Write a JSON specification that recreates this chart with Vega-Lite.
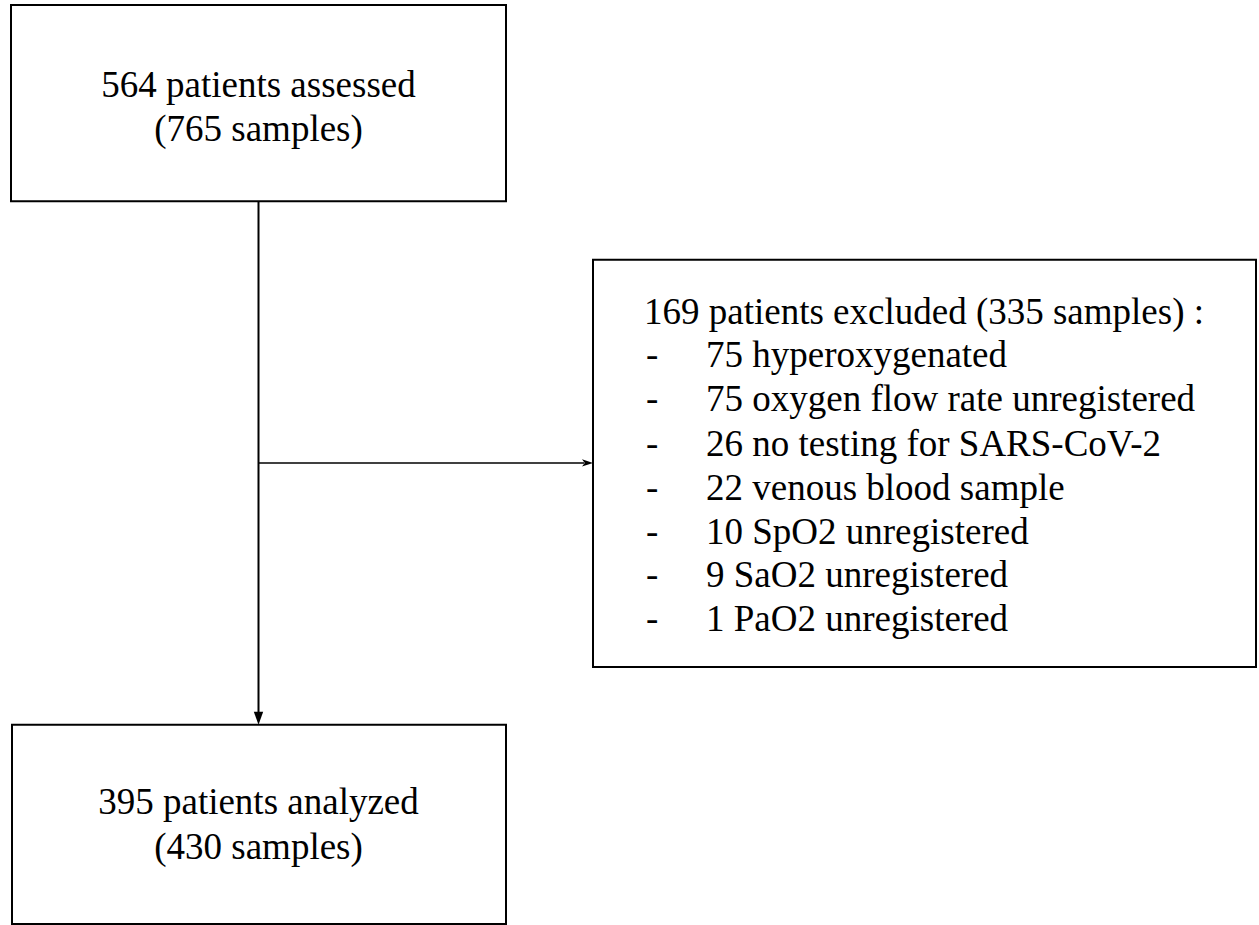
{
  "$schema": "https://vega.github.io/schema/vega-lite/v6.json",
  "width": 1259,
  "height": 925,
  "autosize": {"type": "fit", "contains": "padding"},
  "padding": 0,
  "background": "white",
  "config": {"view": {"stroke": null}},
  "datasets": {
    "boxes": [
      {"box": "assessed", "x1": 11, "x2": 506, "y1": 5, "y2": 202},
      {"box": "excluded", "x1": 593, "x2": 1256, "y1": 261, "y2": 670},
      {"box": "analyzed", "x1": 12, "x2": 506, "y1": 728, "y2": 928}
    ],
    "links": [
      {"link": "down", "x1": 258.5, "y1": 202, "x2": 258.5, "y2": 718},
      {"link": "right", "x1": 258.5, "y1": 465, "x2": 584, "y2": 465}
    ],
    "heads": [
      {"link": "down", "x": 258.5, "y": 728},
      {"link": "right", "x": 593, "y": 465}
    ],
    "centered": [
      {"text": "564 patients assessed", "x": 258.5, "y": 97},
      {"text": "(765 samples)", "x": 258.5, "y": 142},
      {"text": "395 patients analyzed", "x": 258.5, "y": 818},
      {"text": "(430 samples)", "x": 258.5, "y": 863}
    ],
    "header": [
      {"text": "169 patients excluded (335 samples) :", "x": 644, "y": 325}
    ],
    "items": [
      {"text": "75 hyperoxygenated", "y": 369},
      {"text": "75 oxygen flow rate unregistered", "y": 413},
      {"text": "26 no testing for SARS-CoV-2", "y": 458},
      {"text": "22 venous blood sample", "y": 502},
      {"text": "10 SpO2 unregistered", "y": 546},
      {"text": "9 SaO2 unregistered", "y": 590},
      {"text": "1 PaO2 unregistered", "y": 634}
    ]
  },
  "layer": [
    {
      "data": {"name": "boxes"},
      "mark": {"type": "rect", "fill": "white", "stroke": "black", "strokeWidth": 2},
      "encoding": {
        "x": {"field": "x1", "type": "quantitative", "scale": {"domain": [0, 1259], "zero": false, "nice": false}, "axis": null},
        "x2": {"field": "x2"},
        "y": {"field": "y1", "type": "quantitative", "scale": {"domain": [0, 925], "zero": false, "nice": false, "reverse": true}, "axis": null},
        "y2": {"field": "y2"}
      }
    },
    {
      "data": {"name": "links"},
      "transform": [{"filter": "datum.link === 'down'"}],
      "mark": {"type": "rule", "color": "black", "strokeWidth": 2},
      "encoding": {
        "x": {"field": "x1", "type": "quantitative", "scale": {"domain": [0, 1259], "zero": false, "nice": false}, "axis": null},
        "x2": {"field": "x2"},
        "y": {"field": "y1", "type": "quantitative", "scale": {"domain": [0, 925], "zero": false, "nice": false, "reverse": true}, "axis": null},
        "y2": {"field": "y2"}
      }
    },
    {
      "data": {"name": "links"},
      "transform": [{"filter": "datum.link === 'right'"}],
      "mark": {"type": "rule", "color": "black", "strokeWidth": 1.6},
      "encoding": {
        "x": {"field": "x1", "type": "quantitative", "scale": {"domain": [0, 1259], "zero": false, "nice": false}, "axis": null},
        "x2": {"field": "x2"},
        "y": {"field": "y1", "type": "quantitative", "scale": {"domain": [0, 925], "zero": false, "nice": false, "reverse": true}, "axis": null},
        "y2": {"field": "y2"}
      }
    },
    {
      "data": {"name": "heads"},
      "transform": [{"filter": "datum.link === 'down'"}],
      "mark": {"type": "point", "filled": true, "fill": "black", "stroke": null, "opacity": 1, "size": 676, "shape": "M-0.36,-1L0.36,-1L0,0Z"},
      "encoding": {
        "x": {"field": "x", "type": "quantitative", "scale": {"domain": [0, 1259], "zero": false, "nice": false}, "axis": null},
        "y": {"field": "y", "type": "quantitative", "scale": {"domain": [0, 925], "zero": false, "nice": false, "reverse": true}, "axis": null}
      }
    },
    {
      "data": {"name": "heads"},
      "transform": [{"filter": "datum.link === 'right'"}],
      "mark": {"type": "point", "filled": true, "fill": "black", "stroke": null, "opacity": 1, "size": 484, "shape": "M-1,-0.33L0,0L-1,0.33L-0.75,0Z"},
      "encoding": {
        "x": {"field": "x", "type": "quantitative", "scale": {"domain": [0, 1259], "zero": false, "nice": false}, "axis": null},
        "y": {"field": "y", "type": "quantitative", "scale": {"domain": [0, 925], "zero": false, "nice": false, "reverse": true}, "axis": null}
      }
    },
    {
      "data": {"name": "centered"},
      "mark": {"type": "text", "font": "Liberation Serif", "fontSize": 37, "align": "center", "baseline": "alphabetic", "color": "black"},
      "encoding": {
        "x": {"field": "x", "type": "quantitative", "scale": {"domain": [0, 1259], "zero": false, "nice": false}, "axis": null},
        "y": {"field": "y", "type": "quantitative", "scale": {"domain": [0, 925], "zero": false, "nice": false, "reverse": true}, "axis": null},
        "text": {"field": "text"}
      }
    },
    {
      "data": {"name": "header"},
      "mark": {"type": "text", "font": "Liberation Serif", "fontSize": 37, "align": "left", "baseline": "alphabetic", "color": "black"},
      "encoding": {
        "x": {"field": "x", "type": "quantitative", "scale": {"domain": [0, 1259], "zero": false, "nice": false}, "axis": null},
        "y": {"field": "y", "type": "quantitative", "scale": {"domain": [0, 925], "zero": false, "nice": false, "reverse": true}, "axis": null},
        "text": {"field": "text"}
      }
    },
    {
      "data": {"name": "items"},
      "mark": {"type": "text", "font": "Liberation Serif", "fontSize": 37, "align": "left", "baseline": "alphabetic", "color": "black", "text": "-"},
      "encoding": {
        "x": {"datum": 646, "type": "quantitative", "scale": {"domain": [0, 1259], "zero": false, "nice": false}, "axis": null},
        "y": {"field": "y", "type": "quantitative", "scale": {"domain": [0, 925], "zero": false, "nice": false, "reverse": true}, "axis": null}
      }
    },
    {
      "data": {"name": "items"},
      "mark": {"type": "text", "font": "Liberation Serif", "fontSize": 37, "align": "left", "baseline": "alphabetic", "color": "black"},
      "encoding": {
        "x": {"datum": 706, "type": "quantitative", "scale": {"domain": [0, 1259], "zero": false, "nice": false}, "axis": null},
        "y": {"field": "y", "type": "quantitative", "scale": {"domain": [0, 925], "zero": false, "nice": false, "reverse": true}, "axis": null},
        "text": {"field": "text"}
      }
    }
  ]
}
